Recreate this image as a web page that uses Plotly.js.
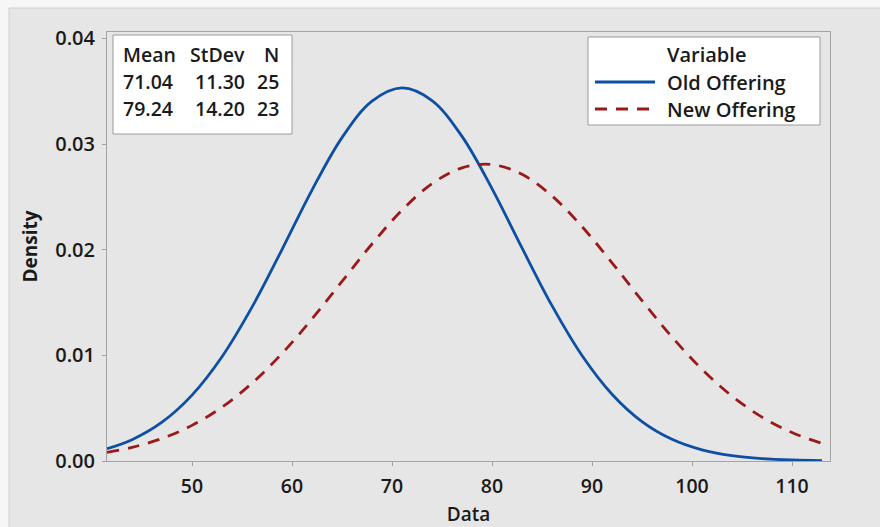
<!DOCTYPE html>
<html>
<head>
<meta charset="utf-8">
<script src="https://cdn.plot.ly/plotly-3.0.1.min.js"></script>
<style>html,body{margin:0;padding:0;background:#e6e6e6;}#chart{width:880px;height:527px;}</style>
</head>
<body>
<div id="chart"></div>
<script>
// Data
const xValues = [41.5, 44, 47, 50, 53, 56, 59, 62, 65, 68, 71, 74, 77, 80, 83, 86, 89, 92, 95, 98, 101, 104, 107, 110, 113];
const oldOffering = [0.001158, 0.002016, 0.003673, 0.006238, 0.009871, 0.014561, 0.020014, 0.025637, 0.030607, 0.034051, 0.035306, 0.034115, 0.030722, 0.025782, 0.020165, 0.014698, 0.009983, 0.006320, 0.003728, 0.002051, 0.001051, 0.000502, 0.000223, 0.0000926, 0.0000358];
const newOffering = [0.000822, 0.001292, 0.002135, 0.003372, 0.005095, 0.007363, 0.010173, 0.013444, 0.016991, 0.020538, 0.023741, 0.026245, 0.027747, 0.028054, 0.027126, 0.025084, 0.022184, 0.018761, 0.015175, 0.011739, 0.008684, 0.006143, 0.004157, 0.002690, 0.001665];
const seriesNames = ["Old Offering", "New Offering"];
const statHeaders = ["Mean", "StDev", "N"];
const statMeans = ["71.04", "79.24"];
const statStDevs = ["11.30", "14.20"];
const statNs = ["25", "23"];
const legendTitle = "Variable";
const xTitle = "Data";
const yTitle = "Density";

const blue = "#0d4fa3";
const red = "#9a1a1a";
const textColor = "#1a1a1a";
const FONT = "Open Sans, Liberation Sans, sans-serif";

// pixel -> paper helpers (plot area: x 107..830, y 32..461)
const L = 107, R = 830, T = 32, B = 461;
const px = v => (v - L) / (R - L);
const py = v => (B - v) / (B - T);

const traces = [
  {x: xValues, y: oldOffering, name: seriesNames[0], type: "scatter", mode: "lines",
   line: {color: blue, width: 2.8, shape: "spline"}, showlegend: false, hoverinfo: "x+y"},
  {x: xValues, y: newOffering, name: seriesNames[1], type: "scatter", mode: "lines",
   line: {color: red, width: 2.8, dash: "12px,9px", shape: "spline"}, showlegend: false, hoverinfo: "x+y"}
];

const shapes = [
  // outer light frame
  {type: "rect", xref: "paper", yref: "paper", x0: px(9), x1: px(881), y0: py(528), y1: py(8),
   fillcolor: "#e6e6e6", line: {color: "#cfcfcf", width: 1}, layer: "below"},
  // stats box
  {type: "rect", xref: "paper", yref: "paper", x0: px(113), x1: px(292), y0: py(134), y1: py(35),
   fillcolor: "#ffffff", line: {color: "#9a9a9a", width: 1}},
  // legend box
  {type: "rect", xref: "paper", yref: "paper", x0: px(588), x1: px(820), y0: py(125), y1: py(37),
   fillcolor: "#ffffff", line: {color: "#9a9a9a", width: 1}},
  {type: "line", xref: "paper", yref: "paper", x0: px(595), x1: px(655), y0: py(82), y1: py(82),
   line: {color: blue, width: 2.8}},
  {type: "line", xref: "paper", yref: "paper", x0: px(595), x1: px(655), y0: py(109), y1: py(109),
   line: {color: red, width: 2.8, dash: "12px,9px"}}
];

const ann = [];
function addText(text, x, y, xanchor, size) {
  ann.push({text: text, xref: "paper", yref: "paper", x: x, y: y, xanchor: xanchor, yanchor: "middle",
            showarrow: false, font: {family: FONT, size: size, color: textColor, weight: 600}});
}
// stats table
const TS = 19.5;
addText(statHeaders[0], px(121), py(54), "left", TS);
addText(statHeaders[1], px(247), py(54), "right", TS);
addText(statHeaders[2], px(281), py(54), "right", TS);
for (let i = 0; i < statMeans.length; i++) {
  const yy = py(81 + 27 * i);
  addText(statMeans[i], px(121), yy, "left", TS);
  addText(statStDevs[i], px(247), yy, "right", TS);
  addText(statNs[i], px(281), yy, "right", TS);
}
// legend text
const LS = 20;
addText(legendTitle, px(665), py(55), "left", LS);
addText(seriesNames[0], px(665), py(82), "left", LS);
addText(seriesNames[1], px(665), py(109), "left", LS);

const layout = {
  width: 880, height: 527,
  margin: {l: L, r: 880 - R, t: T, b: 527 - B, pad: 0},
  paper_bgcolor: "#f6f6f6",
  plot_bgcolor: "#ffffff",
  font: {family: FONT, color: textColor},
  showlegend: false,
  xaxis: {
    range: [41.5, 113.8], tick0: 50, dtick: 10, tickmode: "linear",
    showgrid: false, zeroline: false,
    showline: true, mirror: true, linecolor: "#a3a3a3", linewidth: 1,
    ticks: "outside", ticklen: 4, tickcolor: "#a3a3a3",
    ticklabelstandoff: 4,
    tickfont: {family: FONT, size: 19.5, color: textColor, weight: 600},
    title: {text: xTitle, font: {family: FONT, size: 19, color: textColor, weight: 600}, standoff: 10}
  },
  yaxis: {
    range: [0, 0.0406], tick0: 0, dtick: 0.01, tickmode: "linear", tickformat: ".2f",
    showgrid: false, zeroline: false,
    showline: true, mirror: true, linecolor: "#a3a3a3", linewidth: 1,
    ticks: "outside", ticklen: 4, tickcolor: "#a3a3a3",
    ticklabelstandoff: 3,
    tickfont: {family: FONT, size: 20, color: textColor, weight: 600},
    title: {text: yTitle, font: {family: FONT, size: 19, color: textColor, weight: 700}, standoff: 12}
  },
  shapes: shapes,
  annotations: ann
};

Plotly.newPlot("chart", traces, layout, {displayModeBar: false, staticPlot: true});
</script>
</body>
</html>
